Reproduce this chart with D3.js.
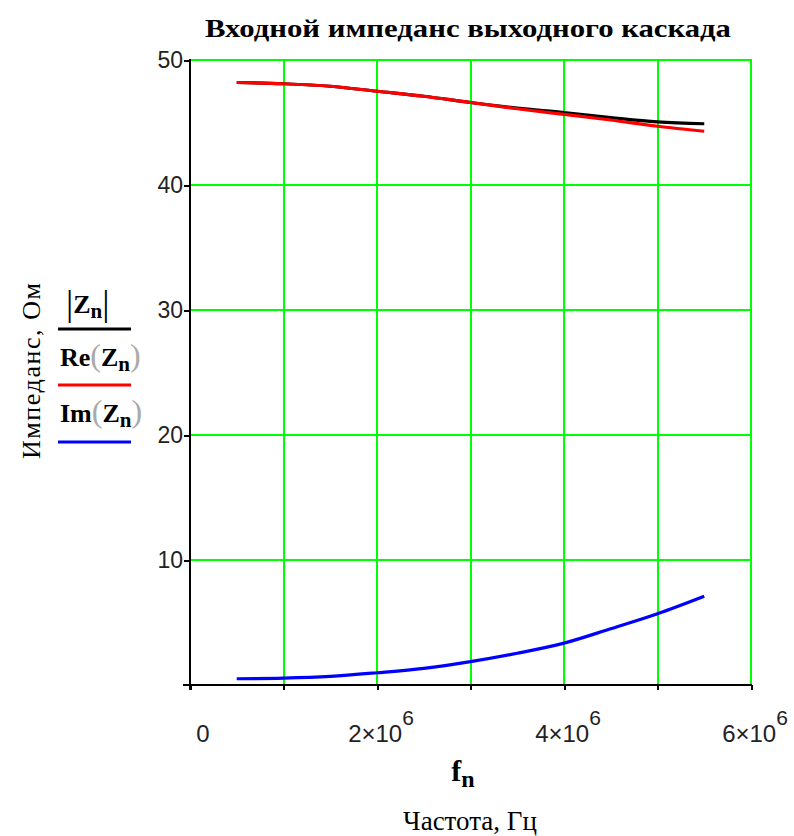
<!DOCTYPE html>
<html><head><meta charset="utf-8">
<script src="https://cdn.jsdelivr.net/npm/d3@7"></script>
<style>html,body{margin:0;padding:0;background:#fff;}svg{display:block;}</style>
</head><body><svg id="c" width="794" height="836"></svg>
<script>
// ---- data ----
const freq   = [0.5e6, 1e6, 1.5e6, 2e6, 2.5e6, 3e6, 3.5e6, 4e6, 4.5e6, 5e6, 5.5e6];
const absZ   = [48.2, 48.1, 47.9, 47.5, 47.1, 46.6, 46.15, 45.8, 45.4, 45.05, 44.9];
const reZ    = [48.2, 48.1, 47.9, 47.5, 47.1, 46.6, 46.1, 45.65, 45.2, 44.7, 44.3];
const imZ    = [0.5, 0.55, 0.69, 0.98, 1.33, 1.87, 2.54, 3.35, 4.5, 5.7, 7.1];
const xGrid  = [0, 1e6, 2e6, 3e6, 4e6, 5e6, 6e6];
const xTickVals  = [0, 2e6, 4e6, 6e6];
const xTickMant  = ["0", "2×10", "4×10", "6×10"];
const xTickExp   = ["", "6", "6", "6"];
const yTickVals  = [10, 20, 30, 40, 50];
const yGrid      = [0, 10, 20, 30, 40, 50];
const seriesNames = ["|Z|", "Re(Z)", "Im(Z)"];
const seriesColors = ["#000000", "#ff0000", "#0000ff"];
const titleText = "Входной импеданс выходного каскада";
const yLabelText = "Импеданс, Ом";
const xLabelText = "Частота, Гц";

const svg = d3.select("#c");
const L = 190, R = 751, T = 60, B = 685;
const x = d3.scaleLinear().domain([0, 6e6]).range([L, R]);
const y = d3.scaleLinear().domain([0, 50]).range([B, T]);
const px = v => Math.round(v);
const serif = "'Liberation Serif','Times New Roman',serif";
const sans = "'Liberation Sans',Arial,sans-serif";

// grid
const g = svg.append("g").attr("shape-rendering", "crispEdges");
g.selectAll(".vg").data(xGrid.filter(d => d > 0)).enter().append("line")
  .attr("x1", d => px(x(d))).attr("x2", d => px(x(d))).attr("y1", T - 1).attr("y2", B)
  .attr("stroke", "#00ff00").attr("stroke-width", 2);
g.selectAll(".hg").data(yGrid.filter(d => d > 0)).enter().append("line")
  .attr("x1", L).attr("x2", R + 1).attr("y1", d => px(y(d))).attr("y2", d => px(y(d)))
  .attr("stroke", "#00ff00").attr("stroke-width", 2);

// axes (black left & bottom with ticks)
const xAxis = d3.axisBottom(x).tickValues(xGrid).tickSize(5).tickFormat("");
const yAxis = d3.axisLeft(y).tickValues(yTickVals).tickSize(6).tickFormat("");
const ga = svg.append("g").attr("shape-rendering", "crispEdges");
ga.append("g").attr("transform", `translate(0,${B})`).call(xAxis)
  .call(s => s.select(".domain").attr("d", `M${L-7},0H${R+1}`))
  .call(s => s.selectAll("line").attr("stroke", "#000").attr("stroke-width", 2));
ga.append("g").attr("transform", `translate(${L},0)`).call(yAxis)
  .call(s => s.select(".domain").attr("d", `M0,${T-1}V${B+5}`))
  .call(s => s.selectAll("line").attr("stroke", "#000").attr("stroke-width", 2));
ga.selectAll(".domain").attr("stroke", "#000").attr("stroke-width", 2).attr("fill", "none");

// y tick labels
svg.append("g").selectAll("text").data(yTickVals).enter().append("text")
  .attr("x", L - 7).attr("y", d => y(d) + 8).attr("text-anchor", "end")
  .attr("font-family", sans).attr("font-size", 23).attr("fill", "#222")
  .text(d => d);

// x tick labels
const xt = svg.append("g").selectAll("text").data(xTickVals).enter().append("text")
  .attr("x", (d, i) => x(d) + (i === 0 ? 13 : 4)).attr("y", 742).attr("text-anchor", "middle")
  .attr("font-family", sans).attr("font-size", 24).attr("fill", "#222");
xt.append("tspan").text((d, i) => xTickMant[i]);
xt.append("tspan").attr("dy", -17).attr("font-size", 21).text((d, i) => xTickExp[i]);

// curves
const series = [absZ, reZ, imZ];
const line = d3.line().x((d, i) => x(freq[i])).y(d => y(d)).curve(d3.curveMonotoneX);
svg.append("g").selectAll("path").data(series).enter().append("path")
  .attr("d", d => line(d)).attr("fill", "none")
  .attr("stroke", (d, i) => seriesColors[i]).attr("stroke-width", 3.2)
  .attr("stroke-linecap", "butt");

// title
svg.append("text").attr("x", 468).attr("y", 37).attr("text-anchor", "middle")
  .attr("font-family", serif).attr("font-weight", "bold").attr("font-size", 26)
  .attr("textLength", 526).attr("lengthAdjust", "spacingAndGlyphs")
  .text(titleText);

// y axis label
svg.append("text").attr("transform", "translate(40,371) rotate(-90)")
  .attr("text-anchor", "middle").attr("font-family", serif).attr("font-size", 26)
  .attr("textLength", 176).attr("lengthAdjust", "spacing")
  .text(yLabelText);

// legend
const legY = [313, 366, 422];
const legLineY = [329, 385, 442];
const leg = svg.append("g");
legY.forEach((ly, i) => {
  const t = leg.append("text").attr("x", 60).attr("y", ly).attr("text-anchor", "start")
    .attr("font-family", serif).attr("font-size", 26).attr("font-weight", "bold");
  if (i === 0) {
    t.attr("x", 66);
    t.append("tspan").attr("font-weight", "normal").attr("font-size", 36).attr("dy", 2).text("|");
    t.append("tspan").attr("dy", -2).text("Z");
    t.append("tspan").attr("dy", 5).attr("font-size", 21).text("n");
    t.append("tspan").attr("dy", -3).attr("font-weight", "normal").attr("font-size", 36).text("|");
  } else {
    t.append("tspan").text(i === 1 ? "Re" : "Im");
    t.append("tspan").attr("font-weight", "normal").attr("fill", "#aaa").attr("font-size", 32).text("(");
    t.append("tspan").text("Z");
    t.append("tspan").attr("dy", 5).attr("font-size", 21).text("n");
    t.append("tspan").attr("dy", -5).attr("font-weight", "normal").attr("fill", "#aaa").attr("font-size", 32).text(")");
  }
  leg.append("line").attr("x1", 58).attr("x2", 131).attr("y1", legLineY[i]).attr("y2", legLineY[i])
    .attr("stroke", seriesColors[i]).attr("stroke-width", 3);
});

// x variable label f_n
const fx = svg.append("text").attr("x", 463).attr("y", 781).attr("text-anchor", "middle")
  .attr("font-family", serif).attr("font-weight", "bold").attr("font-size", 30);
fx.append("tspan").text("f");
fx.append("tspan").attr("dy", 6).attr("font-size", 24).text("n");

// x axis label
svg.append("text").attr("x", 470).attr("y", 830).attr("text-anchor", "middle")
  .attr("font-family", serif).attr("font-size", 27).text(xLabelText);
</script></body></html>
